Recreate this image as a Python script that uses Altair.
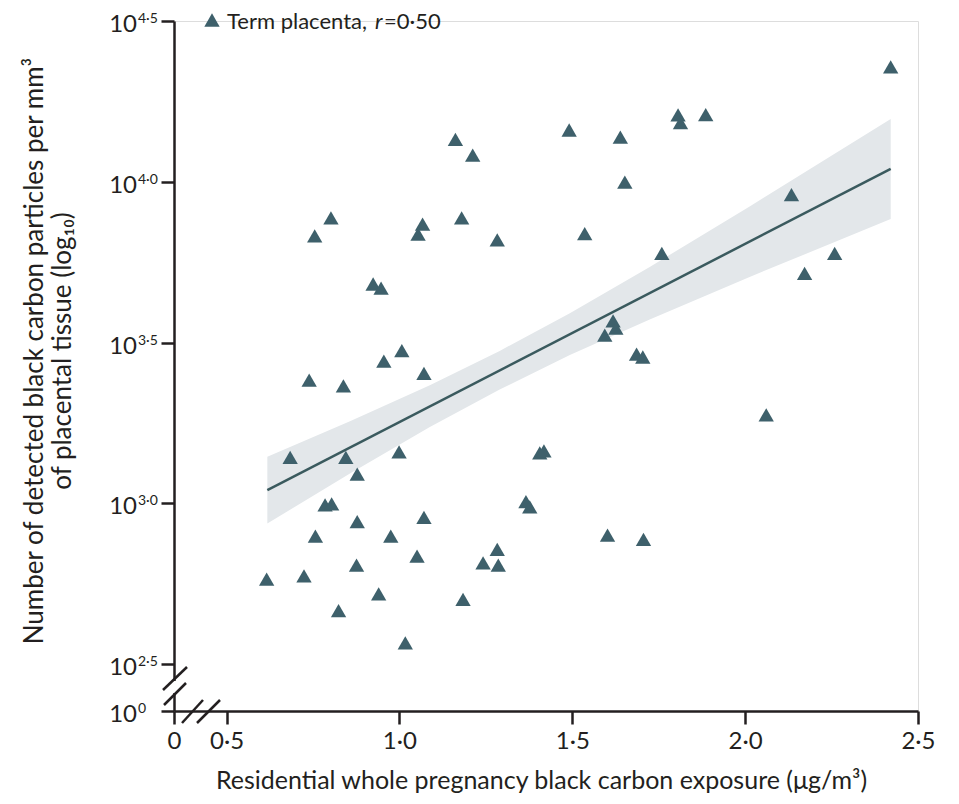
import altair as alt
import pandas as pd

# ---- data (x: µg/m³, y: log10 particles per mm³) ----
exposure = [2.421, 1.886, 1.806, 1.813, 1.491, 1.639, 1.162, 1.212, 1.652, 2.134,
            0.802, 1.180, 1.067, 1.054, 0.755, 1.536, 1.283, 1.759, 2.259, 2.172,
            0.924, 0.947, 1.618, 1.626, 1.594, 1.007, 0.955, 1.686, 1.704, 1.071,
            0.739, 0.838, 2.061, 0.684, 0.845, 0.999, 1.406, 1.418, 0.878, 0.785,
            0.804, 1.366, 1.377, 0.878, 1.071, 0.757, 0.975, 1.602, 1.706, 1.051,
            1.283, 1.242, 1.286, 0.876, 0.616, 0.724, 0.940, 1.184, 0.824, 1.017]
log_particles = [4.357, 4.209, 4.208, 4.184, 4.161, 4.139, 4.132, 4.083, 3.999, 3.960,
                 3.888, 3.888, 3.868, 3.837, 3.832, 3.839, 3.819, 3.777, 3.777, 3.715,
                 3.682, 3.669, 3.567, 3.545, 3.523, 3.475, 3.442, 3.464, 3.455, 3.404,
                 3.383, 3.365, 3.275, 3.143, 3.143, 3.160, 3.157, 3.163, 3.091, 2.995,
                 2.998, 3.005, 2.989, 2.943, 2.956, 2.898, 2.898, 2.901, 2.888, 2.836,
                 2.857, 2.815, 2.808, 2.808, 2.764, 2.774, 2.718, 2.701, 2.666, 2.566]

fit_x = [0.618, 2.421]
fit_y = [3.041, 4.040]

band_x = [0.618, 0.857, 1.088, 1.290, 1.493, 1.724, 2.013, 2.421]
band_lo = [2.937, 3.093, 3.237, 3.354, 3.461, 3.572, 3.704, 3.884]
band_hi = [3.145, 3.255, 3.367, 3.474, 3.591, 3.735, 3.923, 4.195]

x_ticks = [0.348, 0.5, 1.0, 1.5, 2.0, 2.5]
y_ticks = [2.354, 2.5, 3.0, 3.5, 4.0, 4.5]
y_tick_exponents = ["0", "2·5", "3·0", "3·5", "4·0", "4·5"]

legend_label = "Term placenta,"
legend_r = "r"
legend_value = "=0·50"

x_title = "Residential whole pregnancy black carbon exposure (μg/m³)"
y_title_lines = ["Number of detected black carbon particles per mm³",
                 "of placental tissue (log₁₀)"]

# ---- styles ----
FONT = "Lato"
INK = "#231f20"
TRI = "#3e606b"
LINE = "#3a5a5e"
BAND = "#e3e7ea"

X_DOM = [x_ticks[0], x_ticks[-1]]
Y_DOM = [y_ticks[0], y_ticks[-1]]

pts = pd.DataFrame({"x": exposure, "y": log_particles})
fit = pd.DataFrame({"x": fit_x, "y": fit_y})
band = pd.DataFrame({"x": band_x, "lo": band_lo, "hi": band_hi})
ylab = pd.DataFrame({"y": y_ticks, "exp": y_tick_exponents, "base": ["10"] * len(y_ticks)})

xs = alt.Scale(domain=X_DOM, nice=False, zero=False)
ys = alt.Scale(domain=Y_DOM, nice=False, zero=False)

x_axis = alt.Axis(
    values=x_ticks,
    labelExpr="datum.value < 0.4 ? '0' : replace(format(datum.value, '.1f'), '.', '·')",
    labelFlush=False, labelOverlap=False,
    title=x_title, grid=False, domainColor=INK, domainWidth=2.5,
    tickColor=INK, tickWidth=2.5, tickSize=13, labelFontSize=24, labelFont=FONT,
    labelColor=INK, labelPadding=5, titleFont=FONT, titleFontSize=25,
    titleFontWeight="normal", titleColor=INK, titleY=69, titleX=367,
    titleAlign="center", titleBaseline="middle",
)
y_axis = alt.Axis(
    values=y_ticks, labels=False, title=None, grid=False,
    domainColor=INK, domainWidth=2.5, tickColor=INK, tickWidth=2.5, tickSize=13,
)

band_layer = alt.Chart(band).mark_area(color=BAND, opacity=1).encode(
    x=alt.X("x:Q", scale=xs, axis=x_axis),
    y=alt.Y("lo:Q", scale=ys, axis=y_axis),
    y2="hi:Q",
)
line_layer = alt.Chart(fit).mark_line(color=LINE, strokeWidth=2.5).encode(
    x=alt.X("x:Q", scale=xs), y=alt.Y("y:Q", scale=ys)
)
point_layer = alt.Chart(pts).mark_point(
    shape="triangle-up", filled=True, color=TRI, opacity=1, size=235
).encode(x=alt.X("x:Q", scale=xs), y=alt.Y("y:Q", scale=ys))

base_lab = alt.Chart(ylab).mark_text(
    align="right", baseline="alphabetic", font=FONT, fontSize=24, color=INK, dx=-37, dy=11
).encode(x=alt.value(0), y=alt.Y("y:Q", scale=ys), text="base:N")
exp_lab = alt.Chart(ylab).mark_text(
    align="left", baseline="alphabetic", font=FONT, fontSize=14, color=INK, dx=-36, dy=2
).encode(x=alt.value(0), y=alt.Y("y:Q", scale=ys), text="exp:N")

# y-axis title, two rotated lines
yt = pd.DataFrame({"t": y_title_lines, "i": [0, 1]})
ytitle1 = alt.Chart(yt.iloc[[0]]).mark_text(
    angle=270, align="center", baseline="middle", font=FONT, fontSize=26, color=INK
).encode(x=alt.value(-139), y=alt.value(330), text="t:N")
ytitle2 = alt.Chart(yt.iloc[[1]]).mark_text(
    angle=270, align="center", baseline="middle", font=FONT, fontSize=26, color=INK
).encode(x=alt.value(-111), y=alt.value(330), text="t:N")

# break marks on the axes
slashes = pd.DataFrame({
    "x1": [-11, -10, 8, 23], "x2": [13, 12, 29, 46],
    "y1": [669, 684, 702, 702], "y2": [646, 662, 679, 679],
})
gap = alt.Chart(pd.DataFrame({"k": [0]})).mark_rule(color="white", strokeWidth=5).encode(
    x=alt.value(0), y=alt.value(660), y2=alt.value(672)
)
slash_layers = [
    alt.Chart(pd.DataFrame({"k": [i]})).mark_rule(color=INK, strokeWidth=2.5).encode(
        x=alt.value(r.x1), x2=alt.value(r.x2), y=alt.value(r.y1), y2=alt.value(r.y2)
    )
    for i, r in enumerate(slashes.itertuples())
]

# legend
leg = pd.DataFrame({"a": [legend_label], "r": [legend_r], "v": [legend_value]})
leg_tri = alt.Chart(leg).mark_point(
    shape="triangle-up", filled=True, color=TRI, opacity=1, size=235
).encode(x=alt.value(38), y=alt.value(-1))
leg_t1 = alt.Chart(leg).mark_text(
    align="left", baseline="alphabetic", font=FONT, fontSize=22, color=INK
).encode(x=alt.value(53), y=alt.value(8), text="a:N")
leg_t2 = alt.Chart(leg).mark_text(
    align="left", baseline="alphabetic", font=FONT, fontSize=22, fontStyle="italic", color=INK
).encode(x=alt.value(201), y=alt.value(8), text="r:N")
leg_t3 = alt.Chart(leg).mark_text(
    align="left", baseline="alphabetic", font=FONT, fontSize=22, color=INK
).encode(x=alt.value(210), y=alt.value(8), text="v:N")

chart = alt.layer(
    band_layer, line_layer, point_layer, base_lab, exp_lab, ytitle1, ytitle2,
    gap, *slash_layers, leg_tri, leg_t1, leg_t2, leg_t3
).properties(
    width=744, height=690,
    padding={"left": 166, "top": 13, "right": 20, "bottom": 84},
    autosize=alt.AutoSizeParams(type="none"),
).configure_view(stroke=None).configure(background="white")

chart.save("out.html", embed_options={"renderer": "svg", "actions": False})
